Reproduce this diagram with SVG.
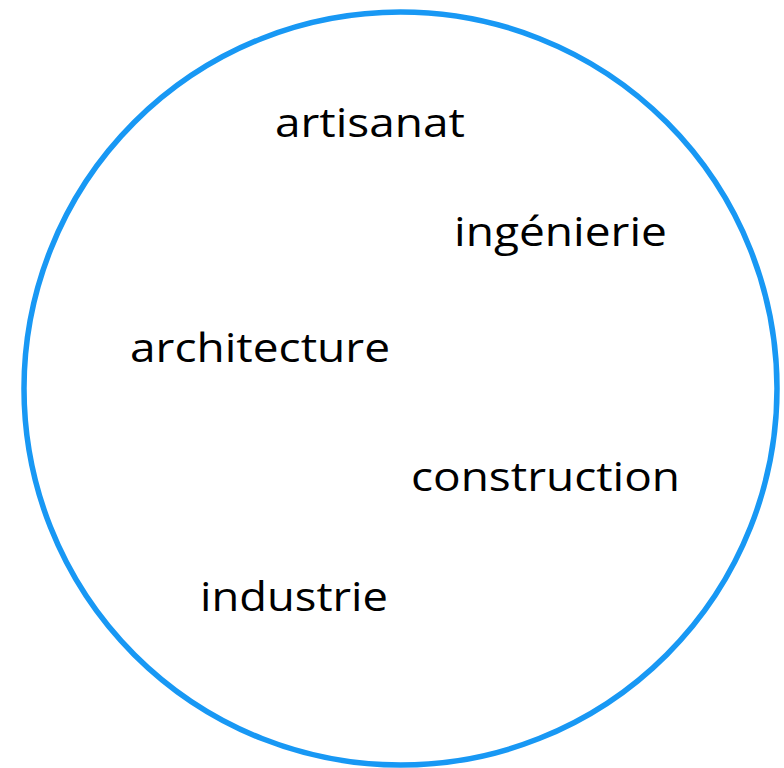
<svg xmlns="http://www.w3.org/2000/svg" width="784" height="768" viewBox="0 0 784 768">
<style>
.lbl{font-family:"Open Sans","Liberation Sans",sans-serif;font-size:41px;fill:#000}
</style>
<rect width="784" height="768" fill="#fff"/>
<g id="circle"><circle cx="400.5" cy="388.5" r="376.5" fill="none" stroke="#1898F4" stroke-width="5.5"/></g>
<g id="connectors"></g>
<g id="n1"><text class="lbl" x="275" y="137" textLength="190" lengthAdjust="spacingAndGlyphs">artisanat</text></g>
<g id="n2"><text class="lbl" x="454" y="246" textLength="213" lengthAdjust="spacingAndGlyphs">ingénierie</text></g>
<g id="n3"><text class="lbl" x="130" y="362" textLength="260" lengthAdjust="spacingAndGlyphs">architecture</text></g>
<g id="n4"><text class="lbl" x="411" y="491" textLength="269" lengthAdjust="spacingAndGlyphs">construction</text></g>
<g id="n5"><text class="lbl" x="200" y="611" textLength="188" lengthAdjust="spacingAndGlyphs">industrie</text></g>
</svg>
